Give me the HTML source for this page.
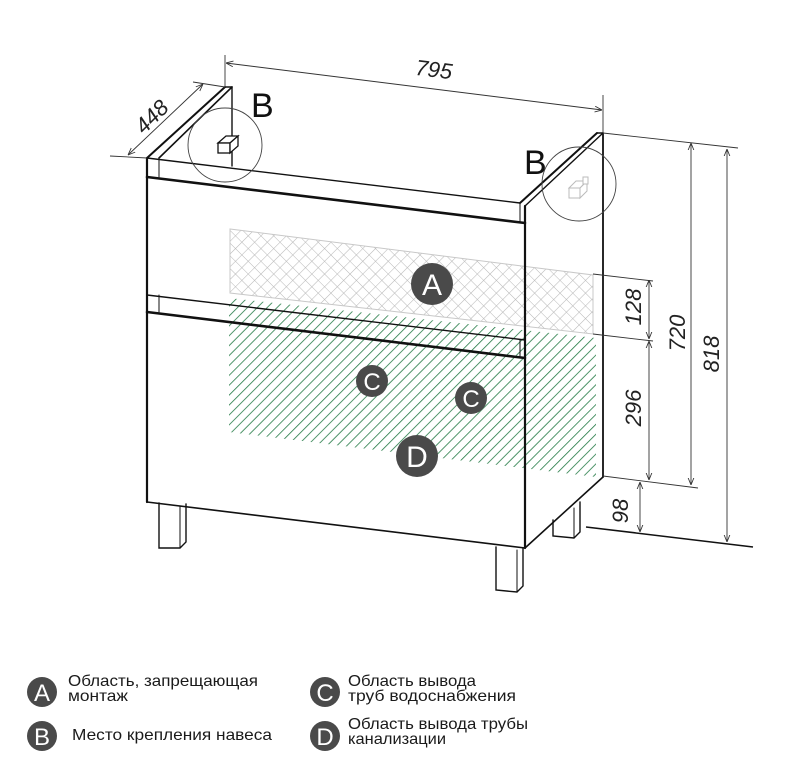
<!DOCTYPE html>
<html><head><meta charset="utf-8"><style>
html,body{margin:0;padding:0;background:#fff;}
svg{display:block;}
.dim{font-family:"Liberation Sans Narrow","Liberation Sans",sans-serif;font-style:italic;font-size:22px;fill:#222;}
.lg{font-family:"Liberation Sans","DejaVu Sans",sans-serif;font-size:16px;fill:#1a1a1a;}
.cl{font-family:"Liberation Sans Narrow","Liberation Sans",sans-serif;fill:#fff;text-anchor:middle;}
</style></head><body>
<svg width="798" height="778" viewBox="0 0 798 778" xmlns="http://www.w3.org/2000/svg">
<defs>
<pattern id="x" width="9" height="9" patternUnits="userSpaceOnUse" patternTransform="rotate(45)">
<path d="M0 0H9M0 0V9" stroke="#b8b8b8" stroke-width="1.1" fill="none"/>
</pattern>
<pattern id="g" width="7" height="7" patternUnits="userSpaceOnUse" patternTransform="rotate(45)">
<path d="M0 0V7" stroke="#237a45" stroke-width="1.6" fill="none"/>
</pattern>
<marker id="ar" viewBox="0 0 10 10" refX="10" refY="5" markerWidth="8" markerHeight="8" orient="auto-start-reverse"><path d="M0 1L10 5L0 9" fill="none" stroke="#333" stroke-width="1.2"/></marker>
</defs>

<polygon points="230,229 593,275 593,334 230,293" fill="url(#x)" stroke="#c8c8c8"/>
<polygon points="229,298 596,338 596,477 229,432" fill="url(#g)"/>

<g stroke="#111" fill="none" stroke-linecap="round">
<line x1="147" y1="158" x2="225" y2="87" stroke-width="2"/>
<line x1="159" y1="158" x2="232" y2="87" stroke-width="1.6"/>
<line x1="225" y1="87" x2="232" y2="87" stroke-width="1.4"/>
<line x1="232" y1="87" x2="232" y2="166" stroke-width="1.4"/>
<line x1="147" y1="158" x2="520" y2="203" stroke-width="1.4"/>
<line x1="147" y1="177" x2="525" y2="223" stroke-width="2.6"/>
<line x1="159" y1="158" x2="159" y2="177" stroke-width="1"/>
<line x1="520" y1="203" x2="520" y2="223" stroke-width="1"/>
<line x1="520" y1="203" x2="597" y2="133" stroke-width="2"/>
<line x1="525" y1="206" x2="603" y2="133" stroke-width="1.4"/>
<line x1="597" y1="133" x2="603" y2="133" stroke-width="1.4"/>
<line x1="603" y1="133" x2="603" y2="477" stroke-width="1.8"/>
<line x1="603" y1="477" x2="525" y2="548" stroke-width="1.6"/>
<line x1="147" y1="158" x2="147" y2="502" stroke-width="2.2"/>
<line x1="525" y1="206" x2="525" y2="548" stroke-width="2.2"/>
<line x1="147" y1="502" x2="525" y2="548" stroke-width="1.6"/>
<line x1="147" y1="295" x2="525" y2="340" stroke-width="1.4"/>
<line x1="147" y1="312" x2="525" y2="358" stroke-width="2.6"/>
<line x1="159" y1="295" x2="159" y2="312" stroke-width="1"/>
<line x1="520" y1="340" x2="520" y2="356" stroke-width="1"/>
<path d="M159 503V548H180L186 542V504" stroke-width="1.4"/>
<line x1="180" y1="548" x2="180" y2="506" stroke-width="1"/>
<path d="M496 547V590L517 592L523 586V548" stroke-width="1.4"/>
<line x1="517" y1="592" x2="517" y2="550" stroke-width="1"/>
<path d="M553 520V536L574 538L580 532V502" stroke-width="1.4"/>
<line x1="574" y1="538" x2="574" y2="508" stroke-width="1"/>
</g>

<circle cx="225" cy="145" r="37" fill="none" stroke="#444" stroke-width="0.9"/>
<g stroke="#111" fill="#fff" stroke-width="1.3">
<path d="M218 143L226 136H238L230 143Z"/>
<rect x="218" y="143" width="12" height="10"/>
<path d="M230 143L238 136V146L230 153Z"/>
</g>
<circle cx="579" cy="184" r="37" fill="none" stroke="#444" stroke-width="0.9"/>
<g stroke="#bbb" fill="#fff" stroke-width="1">
<path d="M569 188L576 181H587L580 188Z"/>
<rect x="569" y="188" width="11" height="10"/>
<path d="M580 188L587 181V191L580 198Z"/>
<rect x="583" y="177" width="5" height="7"/>
</g>
<text x="251" y="117" font-family="Liberation Sans Narrow,Liberation Sans,sans-serif" font-size="34" fill="#111">B</text>
<text x="524" y="174" font-family="Liberation Sans Narrow,Liberation Sans,sans-serif" font-size="34" fill="#111">B</text>

<g stroke="#333" stroke-width="0.9" fill="none">
<line x1="225" y1="55" x2="225" y2="87"/>
<line x1="603" y1="95" x2="603" y2="133"/>
<line x1="226" y1="63" x2="602" y2="110" marker-start="url(#ar)" marker-end="url(#ar)"/>
<line x1="110" y1="156" x2="147" y2="158"/>
<line x1="193" y1="82" x2="225" y2="87"/>
<line x1="128" y1="155" x2="203" y2="84" marker-start="url(#ar)" marker-end="url(#ar)"/>
<line x1="603" y1="133" x2="738" y2="148"/>
<line x1="593" y1="274" x2="653" y2="281"/>
<line x1="593" y1="334" x2="653" y2="341"/>
<line x1="603" y1="476" x2="698" y2="488"/>
<line x1="586" y1="527" x2="753" y2="547" stroke="#111" stroke-width="1.6"/>
<line x1="649" y1="280" x2="649" y2="339" marker-start="url(#ar)" marker-end="url(#ar)"/>
<line x1="649" y1="341" x2="649" y2="480" marker-start="url(#ar)" marker-end="url(#ar)"/>
<line x1="640" y1="482" x2="640" y2="532" marker-start="url(#ar)" marker-end="url(#ar)"/>
<line x1="691" y1="143" x2="691" y2="485" marker-start="url(#ar)" marker-end="url(#ar)"/>
<line x1="727" y1="149" x2="727" y2="542" marker-start="url(#ar)" marker-end="url(#ar)"/>
</g>
<text class="dim" transform="translate(433,77) rotate(7)" text-anchor="middle">795</text>
<text class="dim" transform="translate(157,122) rotate(-45)" text-anchor="middle">448</text>
<text class="dim" transform="translate(641,307) rotate(-90)" text-anchor="middle">128</text>
<text class="dim" transform="translate(641,408) rotate(-90)" text-anchor="middle">296</text>
<text class="dim" transform="translate(628,511) rotate(-90)" text-anchor="middle">98</text>
<text class="dim" transform="translate(685,333) rotate(-90)" text-anchor="middle">720</text>
<text class="dim" transform="translate(719,354) rotate(-90)" text-anchor="middle">818</text>

<g fill="#4a4a4a">
<circle cx="432" cy="284" r="21"/><circle cx="372" cy="381" r="16"/>
<circle cx="471" cy="398" r="16"/><circle cx="417" cy="456" r="21"/>
</g>
<text class="cl" x="432" y="295" font-size="30">A</text>
<text class="cl" x="372" y="390" font-size="24">C</text>
<text class="cl" x="471" y="407" font-size="24">C</text>
<text class="cl" x="417" y="467" font-size="30">D</text>

<g fill="#4a4a4a">
<circle cx="42" cy="692" r="15"/><circle cx="42" cy="736" r="15"/>
<circle cx="325" cy="692" r="15"/><circle cx="325" cy="736" r="15"/>
</g>
<text class="cl" x="42" y="701" font-size="24">A</text>
<text class="cl" x="42" y="745" font-size="24">B</text>
<text class="cl" x="325" y="701" font-size="24">C</text>
<text class="cl" x="325" y="745" font-size="24">D</text>
<text class="lg" x="68" y="686" textLength="190" lengthAdjust="spacingAndGlyphs">Область, запрещающая</text>
<text class="lg" x="68" y="701" textLength="60" lengthAdjust="spacingAndGlyphs">монтаж</text>
<text class="lg" x="72" y="740" textLength="200" lengthAdjust="spacingAndGlyphs">Место крепления навеса</text>
<text class="lg" x="348" y="686" textLength="128" lengthAdjust="spacingAndGlyphs">Область вывода</text>
<text class="lg" x="348" y="701" textLength="168" lengthAdjust="spacingAndGlyphs">труб водоснабжения</text>
<text class="lg" x="348" y="729" textLength="180" lengthAdjust="spacingAndGlyphs">Область вывода трубы</text>
<text class="lg" x="348" y="744" textLength="98" lengthAdjust="spacingAndGlyphs">канализации</text>
</svg>
</body></html>
